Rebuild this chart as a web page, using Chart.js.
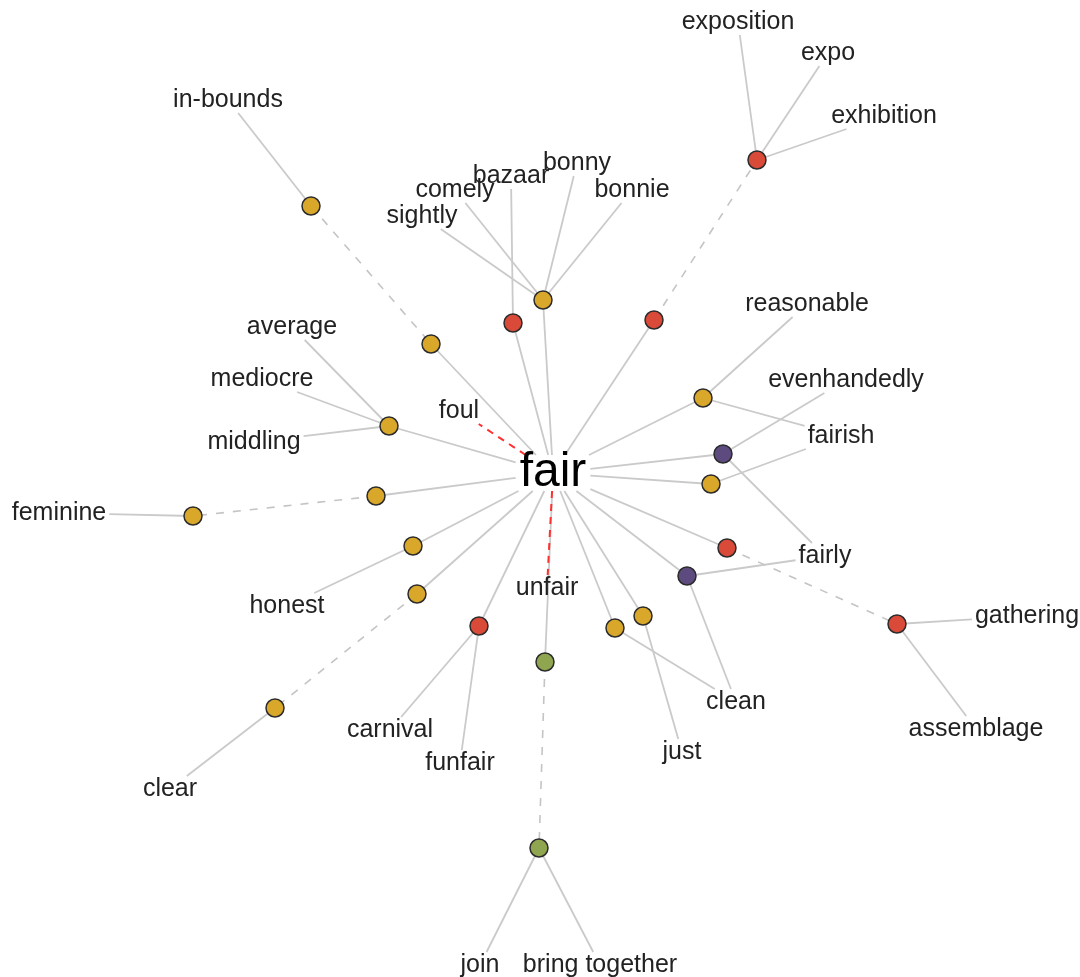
<!DOCTYPE html>
<html>
<head>
<meta charset="utf-8">
<script src="https://cdn.jsdelivr.net/npm/chart.js@4/dist/chart.umd.min.js"></script>
<style>
  html, body { margin: 0; padding: 0; background: #ffffff; }
  #wrap { width: 1080px; height: 977px; position: relative; }
</style>
</head>
<body>
<div id="wrap"><canvas id="c" width="1080" height="977"></canvas></div>
<script>
// ---------- DATA ----------
// Centre word
const centerWord = 'fair';
const centerX = 553;
const centerY = 473;

// Sense nodes (hubs)
const hubIds  = ['n1','n2','n3','n4','n5','n6','n7','n8','n9','n10','n11','n12','n13','n14','n15','n16','n17','n18','n19','n20','n21','n22','n23'];
const hubX    = [311, 431, 543, 513, 654, 757, 703, 723, 711, 727, 897, 687, 643, 615, 545, 539, 479, 417, 275, 413, 376, 193, 389];
const hubY    = [206, 344, 300, 323, 320, 160, 398, 454, 484, 548, 624, 576, 616, 628, 662, 848, 626, 594, 708, 546, 496, 516, 426];
const hubKind = ['adj','adj','adj','noun','noun','noun','adj','adv','adj','noun','noun','adv','adj','adj','verb','verb','noun','adj','adj','adj','adj','adj','adj'];

// Word labels
const wordText = ['exposition','expo','exhibition','in-bounds','bazaar','bonny','comely','bonnie','sightly','reasonable','average','mediocre','evenhandedly','foul','middling','fairish','feminine','fairly','unfair','honest','gathering','carnival','clean','assemblage','just','funfair','clear','join','bring together'];
const wordX    = [738, 828, 884, 228, 511, 577, 455, 632, 422, 807, 292, 262, 846, 459, 254, 841, 59, 825, 547, 287, 1027, 390, 736, 976, 682, 460, 170, 480, 600];
const wordY    = [22, 53, 116, 100, 176, 163, 190, 190, 216, 304, 327, 379, 380, 411, 442, 436, 513, 556, 588, 606, 616, 730, 702, 729, 752, 763, 789, 965, 965];

// Links
const edgeFrom = ['fair','fair','fair','fair','fair','fair','fair','fair','fair','fair','fair','fair','fair','fair','fair','fair','fair',
                  'n1','n5','n10','n18','n21','n15',
                  'fair','fair',
                  'n1','n3','n3','n3','n3','n4','n6','n6','n6','n7','n7','n8','n8','n9','n11','n11','n12','n12','n13','n14','n16','n16','n17','n17','n19','n20','n22','n23','n23','n23'];
const edgeTo   = ['n2','n3','n4','n5','n7','n8','n9','n10','n12','n13','n14','n15','n17','n18','n20','n21','n23',
                  'n2','n6','n11','n19','n22','n16',
                  'foul','unfair',
                  'in-bounds','comely','sightly','bonny','bonnie','bazaar','exposition','expo','exhibition','reasonable','fairish','evenhandedly','fairly','fairish','gathering','assemblage','fairly','clean','just','clean','join','bring together','carnival','funfair','clear','honest','feminine','average','mediocre','middling'];
const edgeKind = ['solid','solid','solid','solid','solid','solid','solid','solid','solid','solid','solid','solid','solid','solid','solid','solid','solid',
                  'dash','dash','dash','dash','dash','dash',
                  'anto','anto',
                  'solid','solid','solid','solid','solid','solid','solid','solid','solid','solid','solid','solid','solid','solid','solid','solid','solid','solid','solid','solid','solid','solid','solid','solid','solid','solid','solid','solid','solid','solid'];

// ---------- STYLE ----------
const FONT_FAMILY = '"Liberation Sans", Arial, Helvetica, sans-serif';
const WORD_SIZE = 25;
const CENTER_SIZE = 48;
const kindColor = { adj: '#d9a82b', noun: '#d94a39', adv: '#5d4b80', verb: '#90a54f' };
const edgeStyle = {
  solid: { color: '#cacaca', width: 1.8, dash: [] },
  dash:  { color: '#c4c4c4', width: 1.6, dash: [8, 9] },
  anto:  { color: '#ff3030', width: 2, dash: [7, 6] }
};

// ---------- BUILD ----------
const measureCtx = document.createElement('canvas').getContext('2d');
function textWidth(t, size) {
  measureCtx.font = size + 'px ' + FONT_FAMILY;
  return measureCtx.measureText(t).width;
}

const nodes = {};
hubIds.forEach((id, i) => { nodes[id] = { x: hubX[i], y: hubY[i], type: 'hub' }; });
wordText.forEach((t, i) => {
  nodes[t] = { x: wordX[i], y: wordY[i], type: 'word', hw: textWidth(t, WORD_SIZE) / 2 + 3, hh: 13 };
});
nodes[centerWord] = { x: centerX, y: centerY, type: 'word', hw: textWidth(centerWord, CENTER_SIZE) / 2 + 4, hh: 18 };

function clipEnd(n, other) {
  if (n.type !== 'word') return { x: n.x, y: n.y };
  const dx = other.x - n.x, dy = other.y - n.y;
  const tx = dx !== 0 ? n.hw / Math.abs(dx) : Infinity;
  const ty = dy !== 0 ? n.hh / Math.abs(dy) : Infinity;
  const t = Math.min(tx, ty, 1);
  return { x: n.x + dx * t, y: n.y + dy * t };
}

const datasets = [];
edgeFrom.forEach((f, i) => {
  const a = nodes[f], b = nodes[edgeTo[i]];
  const st = edgeStyle[edgeKind[i]];
  datasets.push({
    type: 'scatter',
    data: [clipEnd(a, b), clipEnd(b, a)],
    showLine: true,
    borderColor: st.color,
    borderWidth: st.width,
    borderDash: st.dash,
    pointRadius: 0,
    pointHoverRadius: 0,
    order: edgeKind[i] === 'anto' ? 1 : 2
  });
});

datasets.push({
  type: 'scatter',
  data: hubIds.map((id, i) => ({ x: hubX[i], y: hubY[i] })),
  pointRadius: 9,
  pointHoverRadius: 9,
  pointBackgroundColor: hubKind.map(k => kindColor[k]),
  pointBorderColor: '#2b2b2b',
  pointBorderWidth: 1.5,
  showLine: false,
  order: 0
});

const labelPlugin = {
  id: 'wordLabels',
  afterDatasetsDraw(chart) {
    const ctx = chart.ctx;
    const xs = chart.scales.x, ys = chart.scales.y;
    ctx.save();
    ctx.textAlign = 'center';
    ctx.textBaseline = 'middle';
    ctx.fillStyle = '#222222';
    ctx.font = WORD_SIZE + 'px ' + FONT_FAMILY;
    wordText.forEach((t, i) => {
      ctx.fillText(t, xs.getPixelForValue(wordX[i]), ys.getPixelForValue(wordY[i]));
    });
    ctx.fillStyle = '#000000';
    ctx.font = CENTER_SIZE + 'px ' + FONT_FAMILY;
    ctx.fillText(centerWord, xs.getPixelForValue(centerX), ys.getPixelForValue(centerY));
    ctx.restore();
  }
};

const bgPlugin = {
  id: 'bg',
  beforeDraw(chart) {
    const c = chart.ctx;
    c.save(); c.fillStyle = '#ffffff'; c.fillRect(0, 0, chart.width, chart.height); c.restore();
  }
};

new Chart(document.getElementById('c'), {
  type: 'scatter',
  data: { datasets },
  options: {
    responsive: false,
    devicePixelRatio: 1,
    animation: false,
    layout: { padding: 0, autoPadding: false },
    plugins: { legend: { display: false }, tooltip: { enabled: false } },
    events: [],
    scales: {
      x: { type: 'linear', min: 0, max: 1080, display: false },
      y: { type: 'linear', min: 0, max: 977, reverse: true, display: false }
    }
  },
  plugins: [bgPlugin, labelPlugin]
});
</script>
</body>
</html>
